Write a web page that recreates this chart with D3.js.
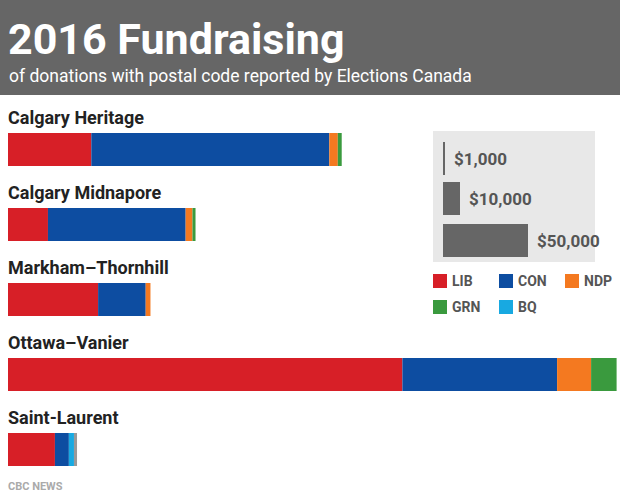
<!DOCTYPE html>
<html><head><meta charset="utf-8">
<script src="https://cdn.jsdelivr.net/npm/d3@7"></script>
<style>body{margin:0;background:#fff}text{font-family:Roboto,"DejaVu Sans",sans-serif}</style>
</head><body><div id="chart"></div>
<script>
const ridings = ["Calgary Heritage", "Calgary Midnapore", "Markham–Thornhill", "Ottawa–Vanier", "Saint-Laurent"]
const parties = ["LIB", "CON", "NDP", "GRN", "BQ", "OTH"]
const colors = ["#d71f27", "#0d4da1", "#f47920", "#3a9a3e", "#18a9e1", "#999999"]
// dollars per riding, per party
const LIB = [49000, 23500, 53000, 232000, 27600]
const CON = [140000, 81000, 28000, 91000, 8200]
const NDP = [5000, 4000, 2800, 20000, 0]
const GRN = [2300, 1800, 0, 15000, 0]
const BQ = [0, 0, 0, 0, 3000]
const OTH = [0, 0, 0, 0, 1800]
const legendAmounts = [1000, 10000, 50000]
const legendLabels = ["$1,000", "$10,000", "$50,000"]

let w = 620, h = 499
let svg = d3.select("#chart").append("svg").attr("width", w).attr("height", h)

svg.append("rect").attr("width", w).attr("height", 95).attr("fill", "#666")
svg.append("text").attr("x", 8).attr("y", 54).attr("fill", "#fff")
    .attr("font-size", 43).attr("font-weight", "bold").text("2016 Fundraising")
svg.append("text").attr("x", 9).attr("y", 82).attr("fill", "#fff")
    .attr("font-size", 17.5).text("of donations with postal code reported by Elections Canada")

let x = d3.scaleLinear().domain([0, 50000]).range([0, 85])
let series = [LIB, CON, NDP, GRN, BQ, OTH]
let stack = d3.stack().keys(d3.range(parties.length)).value((d, k) => series[k][d])(d3.range(ridings.length))

let y = d3.scaleBand().domain(ridings).range([108, 483])

svg.selectAll(".label").data(ridings).enter().append("text")
    .attr("x", 8).attr("y", d => y(d) + 16).attr("font-size", 18).attr("font-weight", "bold")
    .attr("fill", "#222").text(d => d)

stack.forEach((layer, k) => {
    svg.selectAll(".s" + k).data(layer).enter().append("rect")
        .attr("x", d => 8 + x(d[0])).attr("width", d => x(d[1]) - x(d[0]))
        .attr("y", (d, i) => y(ridings[i]) + 25).attr("height", 33)
        .attr("fill", colors[k])
})

svg.append("rect").attr("x", 433).attr("y", 131).attr("width", 162).attr("height", 131).attr("fill", "#e8e8e8")
let ly = [[142, 175], [182, 215], [224, 257]]
legendAmounts.forEach((a, i) => {
    svg.append("rect").attr("x", 443).attr("y", ly[i][0]).attr("width", Math.max(2, x(a)))
        .attr("height", ly[i][1] - ly[i][0]).attr("fill", "#666")
    svg.append("text").attr("x", 443 + Math.max(2, x(a)) + 9).attr("y", (ly[i][0] + ly[i][1]) / 2 + 6)
        .attr("font-size", 17).attr("font-weight", "bold").attr("fill", "#555").text(legendLabels[i])
})
parties.slice(0, 5).forEach((p, i) => {
    let lx = 433 + (i % 3) * 66, lyy = 274 + Math.floor(i / 3) * 26
    svg.append("rect").attr("x", lx).attr("y", lyy).attr("width", 14).attr("height", 14).attr("fill", colors[i])
    svg.append("text").attr("x", lx + 19).attr("y", lyy + 12).attr("font-size", 14)
        .attr("font-weight", "bold").attr("fill", "#555").text(p)
})

svg.append("text").attr("x", 8).attr("y", 490).attr("font-size", 11).attr("font-weight", "bold")
    .attr("fill", "#aaa").text("CBC NEWS")
</script></body></html>
